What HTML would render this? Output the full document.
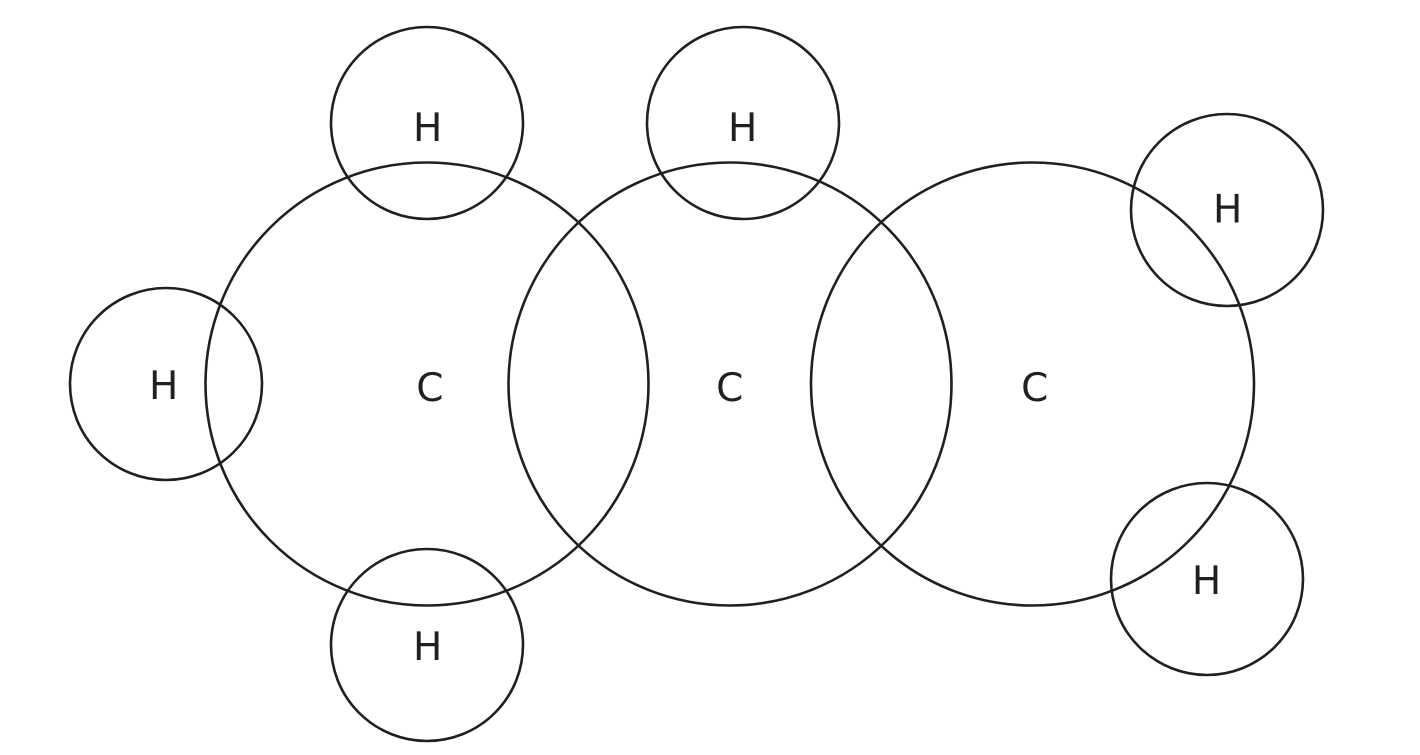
<!DOCTYPE html>
<html>
<head>
<meta charset="utf-8">
<style>
html,body{margin:0;padding:0;background:#fff;width:1420px;height:755px;overflow:hidden}
svg{display:block}
circle{fill:none;stroke:#231f20;stroke-width:2.6}
text{font-family:"DejaVu Sans","Liberation Sans",sans-serif;font-size:39px;fill:#231f20;text-anchor:middle}
</style>
</head>
<body>
<svg width="1420" height="755" viewBox="0 0 1420 755" xmlns="http://www.w3.org/2000/svg">
<circle cx="427" cy="384" r="221.5"/>
<circle cx="730" cy="384" r="221.5"/>
<circle cx="1032.5" cy="384" r="221.5"/>
<circle cx="427" cy="123" r="96"/>
<circle cx="743" cy="123" r="96"/>
<circle cx="166" cy="384" r="96"/>
<circle cx="427" cy="645" r="96"/>
<circle cx="1227" cy="210" r="96"/>
<circle cx="1207" cy="579" r="96"/>
<text x="427.7" y="141">H</text>
<text x="742.7" y="141">H</text>
<text x="163.7" y="399">H</text>
<text x="427.7" y="660">H</text>
<text x="1227.7" y="222.7">H</text>
<text x="1206.5" y="594">H</text>
<text x="429.9" y="401">C</text>
<text x="729.7" y="401">C</text>
<text x="1034.7" y="401">C</text>
</svg>
</body>
</html>
